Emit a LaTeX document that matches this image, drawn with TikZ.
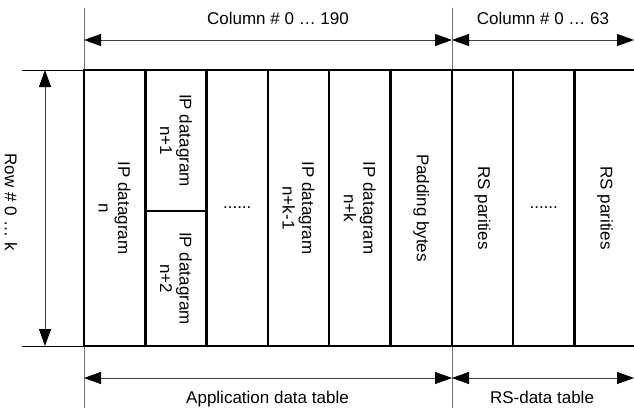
\documentclass[tikz,border=0pt]{standalone}
\usepackage{fontspec}
\setmainfont{Liberation Sans}
\usetikzlibrary{arrows.meta, positioning}

\tikzset{
  cell/.style={draw, line width=2.4pt, rotate=-90, minimum height=61.3pt,
    minimum width=276pt, inner sep=0pt, align=center,
    font=\fontsize{17}{19.5}\selectfont},
  dimarrow/.style={line width=0.9pt, black!75,
    {Triangle[length=17pt,width=12pt,fill=black,color=black]}-{Triangle[length=17pt,width=12pt,fill=black,color=black]}},
  extline/.style={line width=0.9pt, black!55},
  refline/.style={line width=0.9pt, black},
  dimlabel/.style={inner sep=0pt, font=\fontsize{17}{19.5}\selectfont}
}

\begin{document}
\begin{tikzpicture}[x=1pt, y=1pt]
      \useasboundingbox (0,0) rectangle (634,408);

      % columns of the table
      \node[cell] (c1) at (114.65,200) {IP datagram\\n};
      \node[cell, minimum width=141pt] (c2a) at (175.95,267.5) {IP datagram\\n+1};
      \node[cell, minimum width=135pt] (c2b) at (175.95,129.5) {IP datagram\\n+2};
      \node[cell] (c3) at (237.25,200) {};
      \node[cell] (c4) at (298.55,200) {IP datagram\\n+k-1};
      \node[cell] (c5) at (359.85,200) {IP datagram\\n+k};
      \node[cell] (c6) at (421.15,200) {Padding bytes};
      \node[cell] (c7) at (482.45,200) {RS parities};
      \node[cell] (c8) at (543.75,200) {};
      \node[cell] (c9) at (605.05,200) {RS parities};

      \node[dimlabel] (dots1) at (c3.center) {......};
      \node[dimlabel] (dots2) at (c8.center) {......};

      % reference lines
      \coordinate (appltop) at (84,400);
      \coordinate (applbot) at (84,0);
      \coordinate (rstop) at (452,400);
      \coordinate (rsbot) at (452,0);
      \coordinate (rowtopl) at (22,338);
      \coordinate (rowbotl) at (22,62);

      \draw[extline] (appltop) -- (appltop |- c1.west);
      \draw[extline] (applbot |- c1.east) -- (applbot);
      \draw[extline] (rstop) -- (rstop |- c7.west);
      \draw[extline] (rsbot |- c7.east) -- (rsbot);
      \draw[refline] (rowtopl) -- (rowtopl -| c1.north east);
      \draw[refline] (rowbotl) -- (rowbotl -| c1.north east);

      % column dimensions, top
      \coordinate (topa) at (84,368);
      \coordinate (topb) at (452,368);
      \coordinate (topc) at (634,368);
      \draw[dimarrow] (topa) -- (topb);
      \draw[dimarrow] (topb) -- (topc);
      \node[dimlabel, anchor=base] (colappl) at (278,383) {Column \# 0 … 190};
      \node[dimlabel, anchor=base] (colrs) at (543,383) {Column \# 0 … 63};

      % table dimensions, bottom
      \coordinate (bota) at (84,30);
      \coordinate (botb) at (452,30);
      \coordinate (botc) at (634,30);
      \draw[dimarrow] (bota) -- (botb);
      \draw[dimarrow] (botb) -- (botc);
      \node[dimlabel, anchor=base] (applname) at (267.5,4.5) {Application data table};
      \node[dimlabel, anchor=base] (rsname) at (542,4.5) {RS-data table};

      % row dimension
      \coordinate (rowa) at (45,338);
      \coordinate (rowb) at (45,62);
      \draw[dimarrow] (rowa) -- (rowb);
      \node[dimlabel, rotate=-90] (rowname) at (11,206) {Row \# 0 … k};
\end{tikzpicture}
\end{document}
